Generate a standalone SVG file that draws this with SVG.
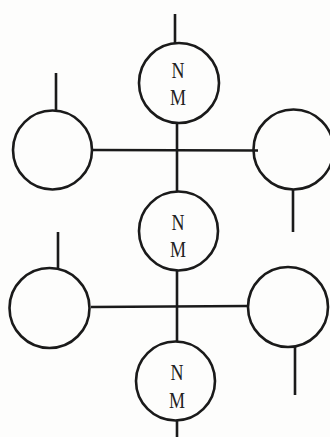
<svg xmlns="http://www.w3.org/2000/svg" width="330" height="437" viewBox="0 0 330 437">
<style>
.bg{fill:#fdfdfc}
.node{fill:none;stroke:#1a1a1a;stroke-width:2.6}
.wire{stroke:#1a1a1a;stroke-width:2.6;fill:none;stroke-linecap:butt}
.lbl{font-family:"Liberation Serif","Times New Roman",serif;font-size:24px;fill:#222;text-anchor:middle}
</style>
<rect class="bg" x="0" y="0" width="330" height="437"/>
<g id="connectors">
<line class="wire" x1="175" y1="14" x2="175" y2="43"/>
<line class="wire" x1="177" y1="123" x2="177" y2="191"/>
<line class="wire" x1="92" y1="150" x2="258" y2="150.5"/>
<line class="wire" x1="56" y1="73" x2="56" y2="110"/>
<line class="wire" x1="293" y1="190" x2="293" y2="232"/>
<line class="wire" x1="177" y1="271" x2="177" y2="341"/>
<line class="wire" x1="91" y1="307" x2="248" y2="306"/>
<line class="wire" x1="58" y1="232" x2="58" y2="268"/>
<line class="wire" x1="295" y1="347" x2="295" y2="395"/>
<line class="wire" x1="177" y1="421" x2="177" y2="437"/>
</g>
<g id="nm1">
<circle class="node" cx="179" cy="83" r="40"/>
<text class="lbl" transform="translate(178,78) scale(0.75,1)">N</text>
<text class="lbl" transform="translate(178,105) scale(0.75,1)">M</text>
</g>
<g id="left1">
<circle class="node" cx="52.5" cy="150" r="39.5"/>
</g>
<g id="right1">
<circle class="node" cx="293.5" cy="149.5" r="40"/>
</g>
<g id="nm2">
<circle class="node" cx="178.5" cy="231" r="39.5"/>
<text class="lbl" transform="translate(178,230) scale(0.75,1)">N</text>
<text class="lbl" transform="translate(178,257) scale(0.75,1)">M</text>
</g>
<g id="left2">
<circle class="node" cx="49.5" cy="308" r="40"/>
</g>
<g id="right2">
<circle class="node" cx="288" cy="307" r="40"/>
</g>
<g id="nm3">
<circle class="node" cx="175.5" cy="381" r="39.5"/>
<text class="lbl" transform="translate(177,380) scale(0.75,1)">N</text>
<text class="lbl" transform="translate(177,408) scale(0.75,1)">M</text>
</g>
</svg>
